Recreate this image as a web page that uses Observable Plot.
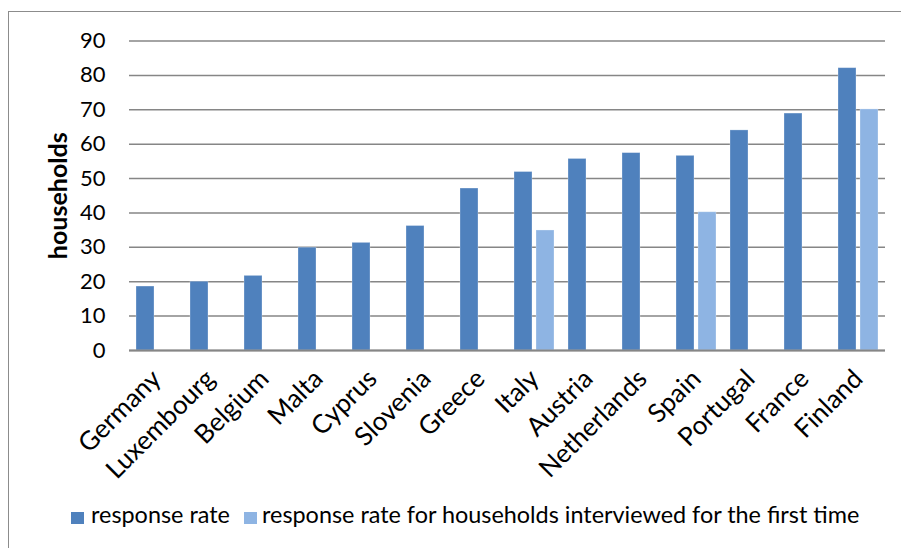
<!DOCTYPE html>
<html>
<head>
<meta charset="utf-8">
<script src="https://cdn.jsdelivr.net/npm/d3@7"></script>
<script src="https://cdn.jsdelivr.net/npm/@observablehq/plot@0.6"></script>
<style>
  html, body { margin: 0; padding: 0; background: #fff; overflow: hidden; width: 901px; height: 548px; }
  #frame { position: absolute; left: 8px; top: 11px; width: 1000px; height: 700px; border: 1.5px solid #8c8c8c; box-sizing: border-box; }
  #chart { position: absolute; left: 0; top: 0; }
  #legend { position: absolute; left: 0; top: 500px; font-family: Lato, sans-serif; font-size: 23.4px; line-height: 1.2; color: #000; }
  .sw { position: absolute; top: 11.5px; width: 13px; height: 12px; }
  .lt { position: absolute; top: 0; white-space: nowrap; }
  g[aria-label="y-axis label"] text { font-weight: bold; }
</style>
</head>
<body>
<div id="frame"></div>
<div id="chart"></div>
<div id="legend"></div>
<script>
const countries = ["Germany","Luxembourg","Belgium","Malta","Cyprus","Slovenia","Greece","Italy","Austria","Netherlands","Spain","Portugal","France","Finland"];
const responseRate = [18.6, 20.0, 21.7, 29.9, 31.3, 36.2, 47.1, 51.9, 55.7, 57.4, 56.6, 64.0, 68.9, 82.1];
const firstTimeRate = [null, null, null, null, null, null, null, 34.9, null, null, 40.2, null, null, 70.1];
const seriesNames = ["response rate", "response rate for households interviewed for the first time"];
const seriesColors = ["#4f81bd", "#8eb4e3"];
const yTicks = [0, 10, 20, 30, 40, 50, 60, 70, 80, 90];

const data = [];
countries.forEach((c, i) => {
  data.push({country: c, series: seriesNames[0], value: responseRate[i]});
  if (firstTimeRate[i] != null) data.push({country: c, series: seriesNames[1], value: firstTimeRate[i]});
});

const chart = Plot.plot({
  width: 901,
  height: 490,
  marginLeft: 127,
  marginRight: 15,
  marginTop: 40.5,
  marginBottom: 140,
  style: {fontFamily: "Lato, sans-serif", fontSize: "22px", color: "#000", background: "transparent"},
  fx: {domain: countries, paddingInner: 0, paddingOuter: 0},
  x: {domain: seriesNames, paddingInner: 0.196, paddingOuter: 0.276},
  y: {domain: [0, 90]},
  color: {domain: seriesNames, range: seriesColors},
  marks: [
    Plot.gridY(yTicks, {stroke: "#868686", strokeOpacity: 1, strokeWidth: 1.5}),
    Plot.barY(data, {fx: "country", x: "series", y: "value", fill: "series", stroke: "#ffffff", strokeOpacity: 0.35, strokeWidth: 0.8}),
    Plot.ruleY([0], {stroke: "#868686", strokeWidth: 2}),
    Plot.axisY(yTicks, {tickSize: 0, tickPadding: 24, label: "households", labelAnchor: "center", labelOffset: 80, labelArrow: "none", fontSize: 22}),
    Plot.axisFx({anchor: "bottom", tickSize: 0, tickRotate: -45, tickPadding: 24, label: null, fontSize: 26}),
    Plot.axisX({ticks: [], label: null})
  ]
});
document.getElementById("chart").appendChild(chart);
const yl = chart.querySelector('g[aria-label="y-axis label"] text');
if (yl) yl.setAttribute("font-size", "25");

const legend = document.getElementById("legend");
const swX = [71, 244];
const txX = [91, 262];
seriesNames.forEach((name, i) => {
  const sw = document.createElement("div");
  sw.className = "sw";
  sw.style.left = swX[i] + "px";
  sw.style.background = seriesColors[i];
  legend.appendChild(sw);
  const t = document.createElement("div");
  t.className = "lt";
  t.style.left = txX[i] + "px";
  t.textContent = name;
  legend.appendChild(t);
});
</script>
</body>
</html>
